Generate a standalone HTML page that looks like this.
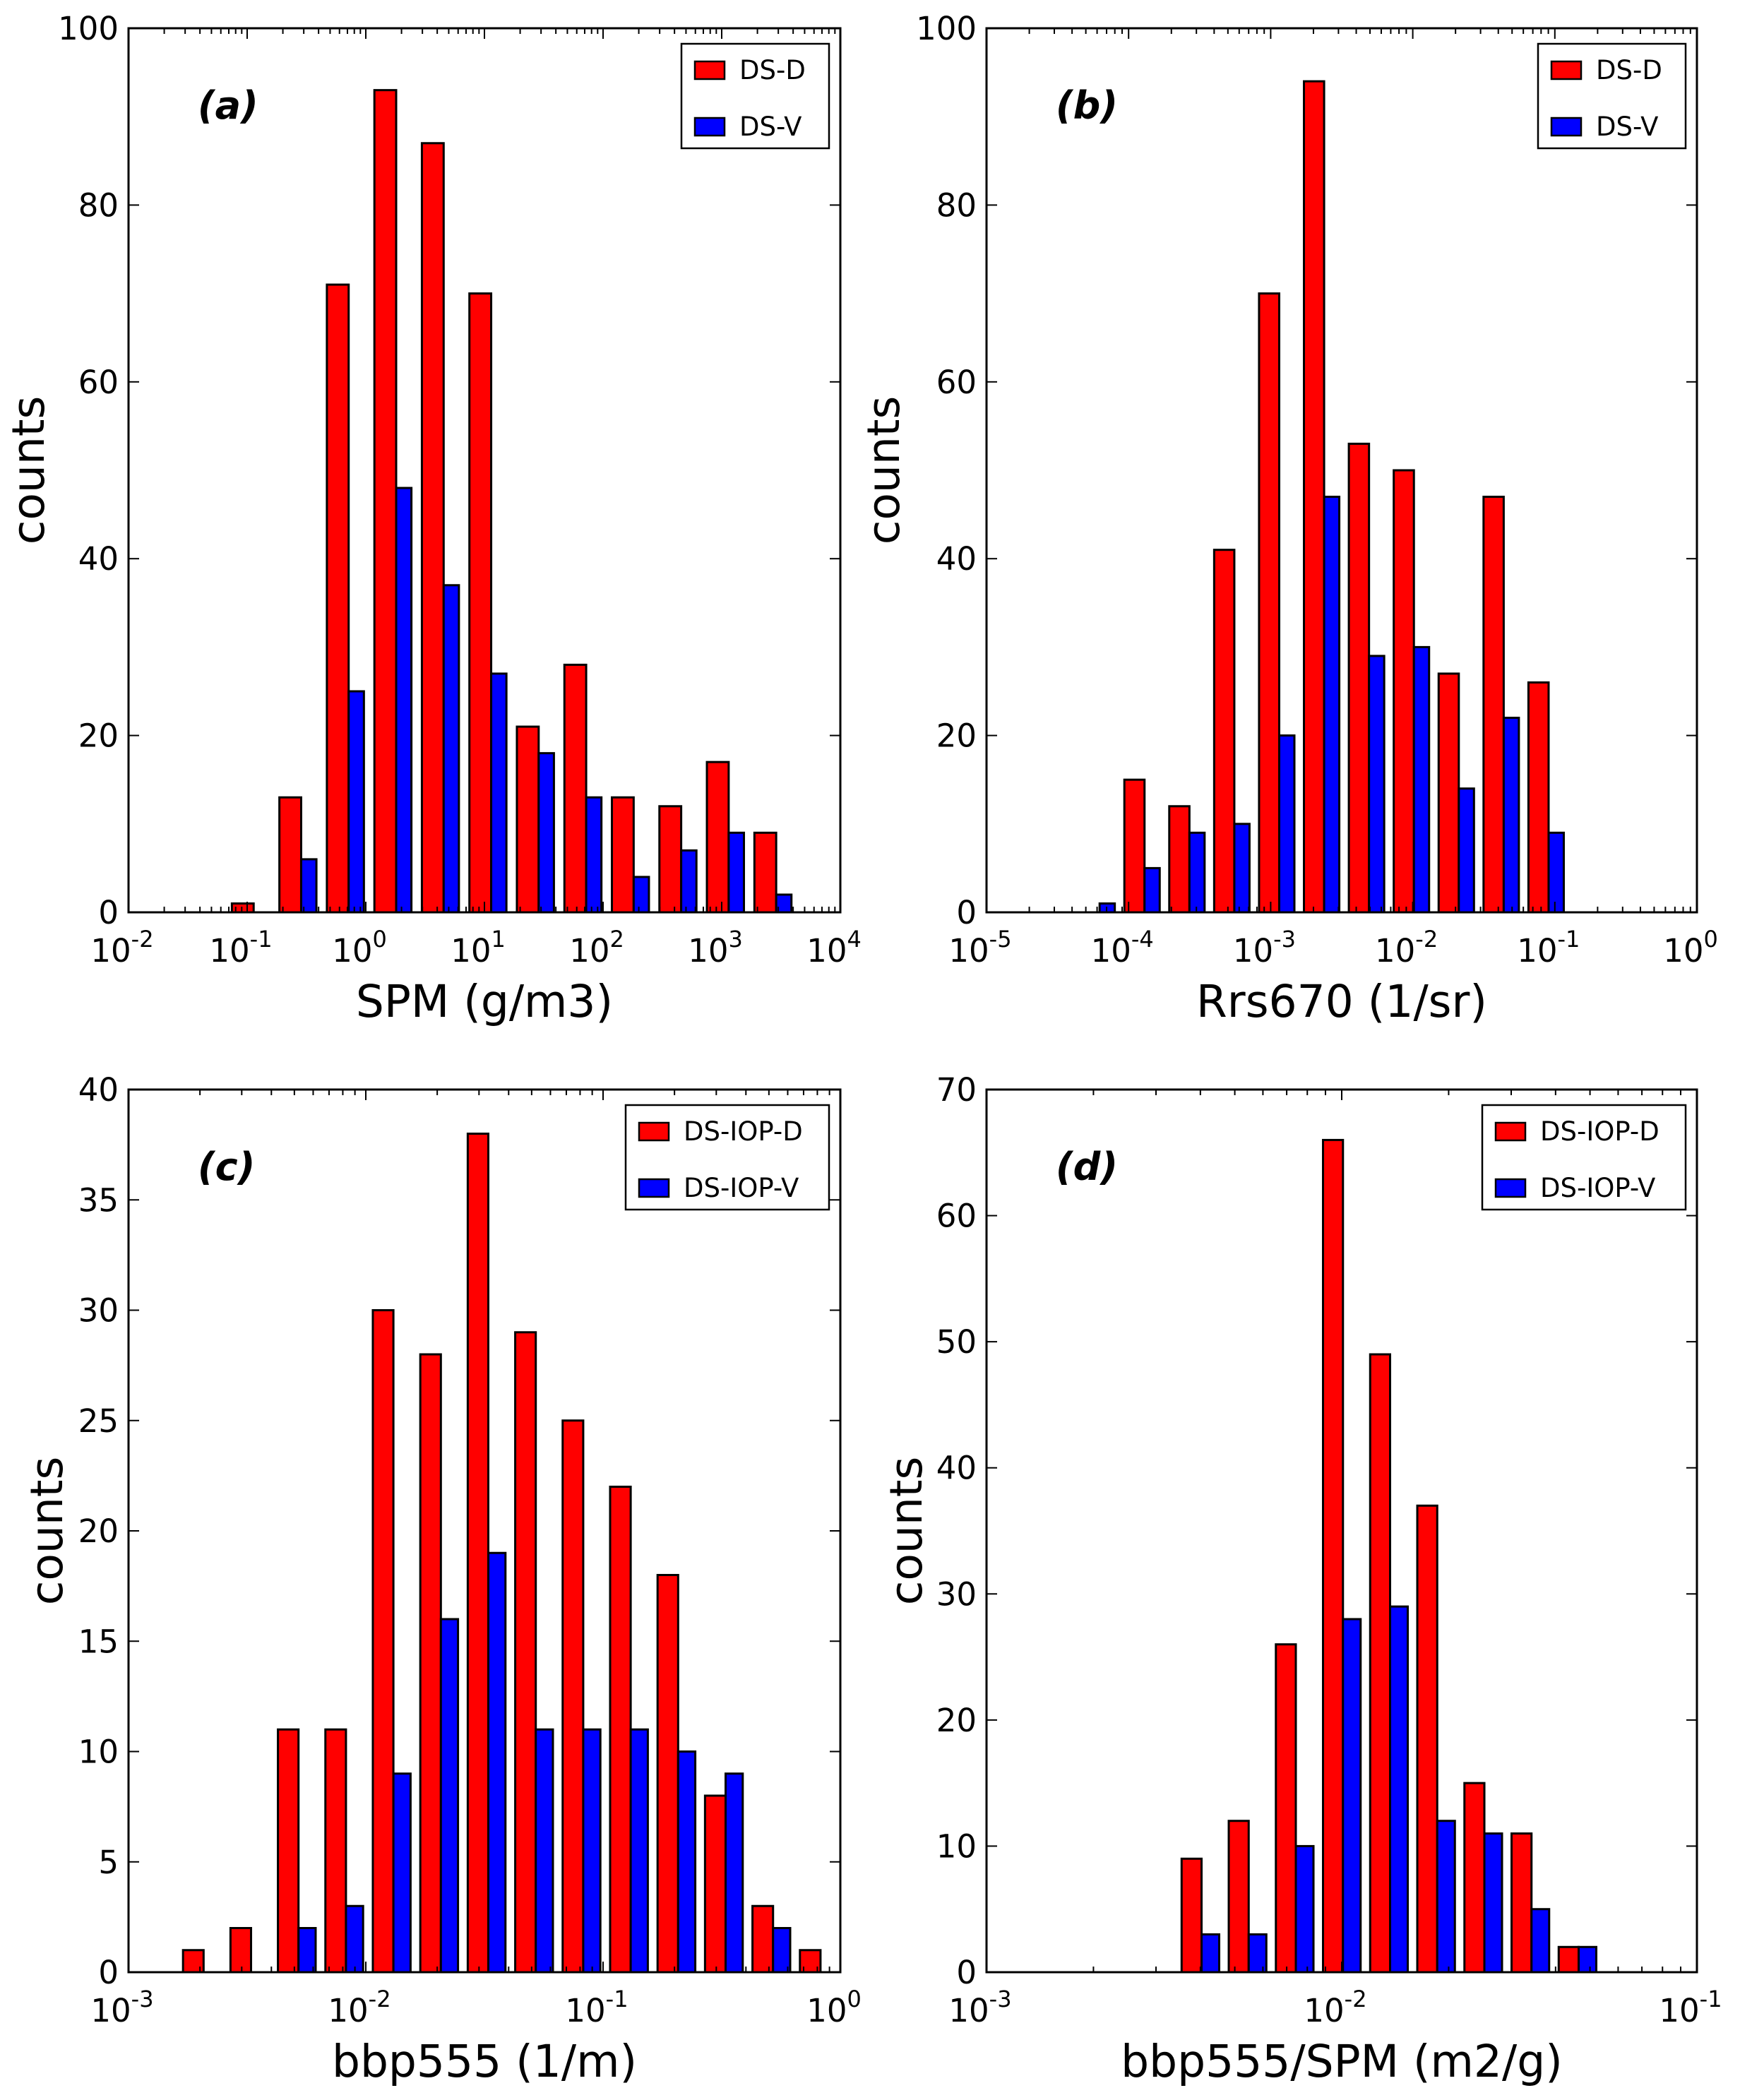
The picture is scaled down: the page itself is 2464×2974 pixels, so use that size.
<!DOCTYPE html>
<html><head><meta charset="utf-8"><style>
html,body{margin:0;padding:0;background:#fff}
svg{display:block;font-family:"DejaVu Sans","Liberation Sans",sans-serif}
</style></head><body>
<svg id="fig" xmlns="http://www.w3.org/2000/svg" width="2464" height="2974" viewBox="0 0 2464 2974"></svg>
<script>
// Panel (a) SPM
const aRed=[1,13,71,93,87,70,21,28,13,12,17,9];
const aBlue=[0,6,25,48,37,27,18,13,4,7,9,2];
const aBins=[-1.19,0.4004];
// Panel (b) Rrs670
const bRed=[0,15,12,41,70,94,53,50,27,47,26];
const bBlue=[1,5,9,10,20,47,29,30,14,22,9];
const bBins=[-4.39,0.316];
// Panel (c) bbp555
const cRed=[1,2,11,11,30,28,38,29,25,22,18,8,3,1];
const cBlue=[0,0,2,3,9,16,19,11,11,11,10,9,2,0];
const cBins=[-2.795,0.2];
// Panel (d) bbp555/SPM
const dRed=[9,12,26,66,49,37,15,11,2];
const dBlue=[3,3,10,28,29,12,11,5,2];
const dBins=[-2.466,0.1327];
const aXTicks=[-2,-1,0,1,2,3,4], bXTicks=[-5,-4,-3,-2,-1,0], cXTicks=[-3,-2,-1,0], dXTicks=[-3,-2,-1];
const aYTicks=[0,20,40,60,80,100], bYTicks=[0,20,40,60,80,100], cYTicks=[0,5,10,15,20,25,30,35,40], dYTicks=[0,10,20,30,40,50,60,70];

const NS="http://www.w3.org/2000/svg";
const svg=document.getElementById('fig');
function mk(tag,attrs,parent){const e=document.createElementNS(NS,tag);for(const k in attrs)e.setAttribute(k,attrs[k]);(parent||svg).appendChild(e);return e;}

function panel(p){
  const g=mk('g',{});
  
  
  const L=p.L,R=p.R,T=p.T,B=p.B;
  const xs=v=>L+(Math.log10(v)-p.xmin)/(p.xmax-p.xmin)*(R-L);
  const xl=lg=>L+(lg-p.xmin)/(p.xmax-p.xmin)*(R-L);
  const ys=v=>B-v/p.ymax*(B-T);
  for(let i=0;i<p.red.length;i++){
    const lg=p.bins[0]+i*p.bins[1];
    const l=Math.pow(10,lg), w=Math.pow(10,lg+p.bins[1])-l;
    const sets=[[p.red[i],l+0.1*w,l+0.5*w,'#ff0000','red'],[p.blue[i],l+0.5*w,l+0.9*w,'#0000ff','blue']];
    for(const s of sets){
      if(s[0]<=0)continue;
      const x1=xs(s[1]),x2=xs(s[2]);
      const r=mk('rect',{x:x1,y:ys(s[0]),width:x2-x1,height:B-ys(s[0]),fill:s[3],stroke:'#000','stroke-width':3},g);
      
      
    }
  }
  for(let d=p.xmin;d<=p.xmax;d++){
    const x=xl(d);
    mk('line',{x1:x,y1:B,x2:x,y2:B-15,stroke:'#000','stroke-width':2},g);
    mk('line',{x1:x,y1:T,x2:x,y2:T+15,stroke:'#000','stroke-width':2},g);
    if(d<p.xmax)for(let m=2;m<10;m++){
      const xm=xl(d+Math.log10(m));
      mk('line',{x1:xm,y1:B,x2:xm,y2:B-8,stroke:'#000','stroke-width':2},g);
      mk('line',{x1:xm,y1:T,x2:xm,y2:T+8,stroke:'#000','stroke-width':2},g);
    }
  }
  for(const d of p.xticks){
    const t=mk('text',{x:xl(d)-9,y:B+70,'font-size':45,'text-anchor':'middle',fill:'#000'},g);
    
    
    t.appendChild(document.createTextNode('10'));
    const sp=mk('tspan',{dy:-21,'font-size':32},t);sp.textContent=String(d);
  }
  for(const v of p.yticks){
    const y=ys(v);
    mk('line',{x1:L,y1:y,x2:L+15,y2:y,stroke:'#000','stroke-width':2},g);
    mk('line',{x1:R,y1:y,x2:R-15,y2:y,stroke:'#000','stroke-width':2},g);
    const t=mk('text',{x:L-14,y:y+16,'font-size':45,'text-anchor':'end',fill:'#000'},g);
    
    
    t.textContent=v;
  }
  const fr=mk('rect',{x:L,y:T,width:R-L,height:B-T,fill:'none',stroke:'#000','stroke-width':3},g);
  
  
  const xt=mk('text',{x:(L+R)/2,y:B+148,'font-size':63,'text-anchor':'middle'},g);
  
  
  xt.textContent=p.xlabel;
  const yt=mk('text',{x:0,y:0,'font-size':63,'text-anchor':'middle',transform:`translate(${p.ylx},${(T+B)/2}) rotate(-90)`},g);
  
  
  yt.textContent='counts';
  const pl=mk('text',{x:L+98,y:T+128,'font-size':54,'font-weight':'bold','font-style':'italic'},g);
  
  
  pl.textContent='('+p.id+')';
  const lg=mk('g',{},g);
  
  
  const lw=p.legW, lx=R-16-lw, ly=T+22;
  mk('rect',{x:lx,y:ly,width:lw,height:148,fill:'#fff',stroke:'#000','stroke-width':2.5},lg);
  const ent=[[p.names[0],'#ff0000'],[p.names[1],'#0000ff']];
  ent.forEach((e,k)=>{
    const cy=ly+37+k*80;
    const sw=mk('rect',{x:lx+19,y:cy-12,width:42,height:25,fill:e[1],stroke:'#000','stroke-width':2.5},lg);
    
    
    const tx=mk('text',{x:lx+82,y:cy+13,'font-size':37},lg);
    
    
    tx.textContent=e[0];
  });
}
panel({id:'a',L:182,R:1190,T:40,B:1292,xmin:-2,xmax:4,ymax:100,red:aRed,blue:aBlue,bins:aBins,xticks:aXTicks,yticks:aYTicks,xlabel:'SPM (g/m3)',ylx:62,legW:209,names:['DS-D','DS-V']});
panel({id:'b',L:1397,R:2403,T:40,B:1292,xmin:-5,xmax:0,ymax:100,red:bRed,blue:bBlue,bins:bBins,xticks:bXTicks,yticks:bYTicks,xlabel:'Rrs670 (1/sr)',ylx:1273,legW:209,names:['DS-D','DS-V']});
panel({id:'c',L:182,R:1190,T:1543,B:2793,xmin:-3,xmax:0,ymax:40,red:cRed,blue:cBlue,bins:cBins,xticks:cXTicks,yticks:cYTicks,xlabel:'bbp555 (1/m)',ylx:88,legW:288,names:['DS-IOP-D','DS-IOP-V']});
panel({id:'d',L:1397,R:2403,T:1543,B:2793,xmin:-3,xmax:-1,ymax:70,red:dRed,blue:dBlue,bins:dBins,xticks:dXTicks,yticks:dYTicks,xlabel:'bbp555/SPM (m2/g)',ylx:1305,legW:288,names:['DS-IOP-D','DS-IOP-V']});
</script>
</body></html>
